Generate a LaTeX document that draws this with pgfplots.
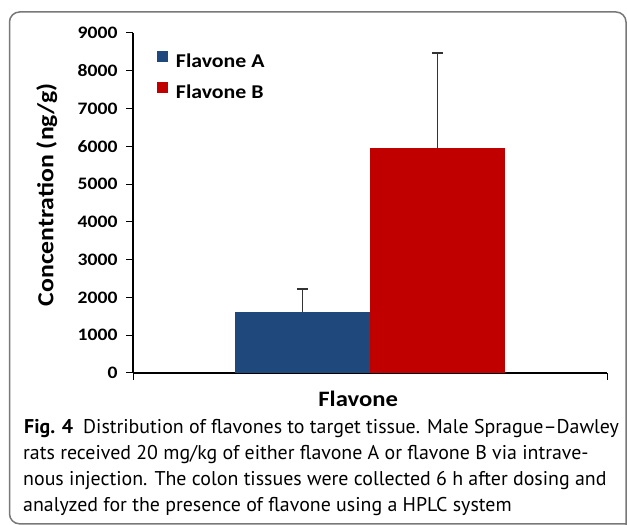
\documentclass[border=0pt]{standalone}
\usepackage{pgfplots}
\pgfplotsset{compat=1.18}
\usepackage{fontspec}
\setmainfont{Carlito}[FakeStretch=1.12]
\newfontfamily\capfont{PT Sans}
\definecolor{barA}{RGB}{31,73,125}
\definecolor{barB}{RGB}{192,0,0}
\definecolor{framec}{RGB}{120,120,120}
\begin{document}
\begin{tikzpicture}[x=1pt,y=1pt]
\useasboundingbox (0,0) rectangle (627,525);
\draw[framec, line width=1.5pt, rounded corners=10pt] (626,1.2) -- (9.5,1.2) -- (9.5,513) -- (626,513) -- (626,-20);
\begin{axis}[at={(133pt,152pt)}, anchor=south west, scale only axis,
  width=474pt, height=340pt,
  xmin=0, xmax=2, ymin=0, ymax=9000,
  axis x line*=bottom, axis y line*=left,
  xtick={0,2}, xticklabels={},
  ytick={0,1000,...,9000},
  tick align=outside, major tick length=7pt,
  tick style={black, line width=1pt},
  axis line style={black, line width=1.2pt},
  /pgf/number format/assume math mode=true,
  /pgf/number format/set thousands separator={},
  yticklabel style={font=\bfseries\fontsize{17.5}{17.5}\selectfont, xshift=-5pt},
  ylabel={Concentration (ng/g)},
  ylabel style={at={(axis description cs:-0.182,0.524)}, anchor=center, font=\bfseries\fontsize{23}{23}\selectfont},
  xlabel={Flavone},
  xlabel style={at={(axis description cs:0.475,-0.1)}, anchor=base, font=\bfseries\fontsize{22}{22}\selectfont},
  ybar=0pt, bar width=135pt,
  legend style={at={(axis description cs:0.0506,0.9485)}, anchor=north west, draw=none, fill=none,
    inner sep=0pt, outer sep=0pt,
    nodes={inner sep=0pt, text height=13pt, text depth=4pt},
    font=\bfseries\fontsize{19.5}{19.5}\selectfont, row sep=11pt, column sep=8pt},
  legend cell align=left,
]
\addplot[fill=barA, draw=none,
  legend image code/.code={\fill[barA] (0pt,1pt) rectangle (11pt,12pt);},
  error bars/.cd, y dir=plus, y explicit,
  error bar style={line width=1.3pt, black!80},
  error mark options={rotate=90, mark size=5.5pt, line width=1.3pt, black!80}]
  coordinates {(1,1620) +- (0,600)};
\addplot[fill=barB, draw=none,
  legend image code/.code={\fill[barB] (0pt,1pt) rectangle (11pt,12pt);},
  error bars/.cd, y dir=plus, y explicit,
  error bar style={line width=1.3pt, black!80},
  error mark options={rotate=90, mark size=5.5pt, line width=1.3pt, black!80}]
  coordinates {(1,5960) +- (0,2510)};
\legend{Flavone A, Flavone B}
\end{axis}
\begin{scope}[every node/.style={anchor=base west, inner sep=0pt, font=\capfont\fontsize{19.9}{19.9}\selectfont}]
\node at (24,91) {\textbf{Fig. 4}\hspace{0.5em}Distribution of flavones to target tissue. Male Sprague–Dawley};
\node at (23,65) {rats received 20 mg/kg of either flavone A or flavone B via intrave-};
\node at (23,39) {nous injection. The colon tissues were collected 6 h after dosing and};
\node at (23,13) {analyzed for the presence of flavone using a HPLC system};
\end{scope}
\end{tikzpicture}
\end{document}
